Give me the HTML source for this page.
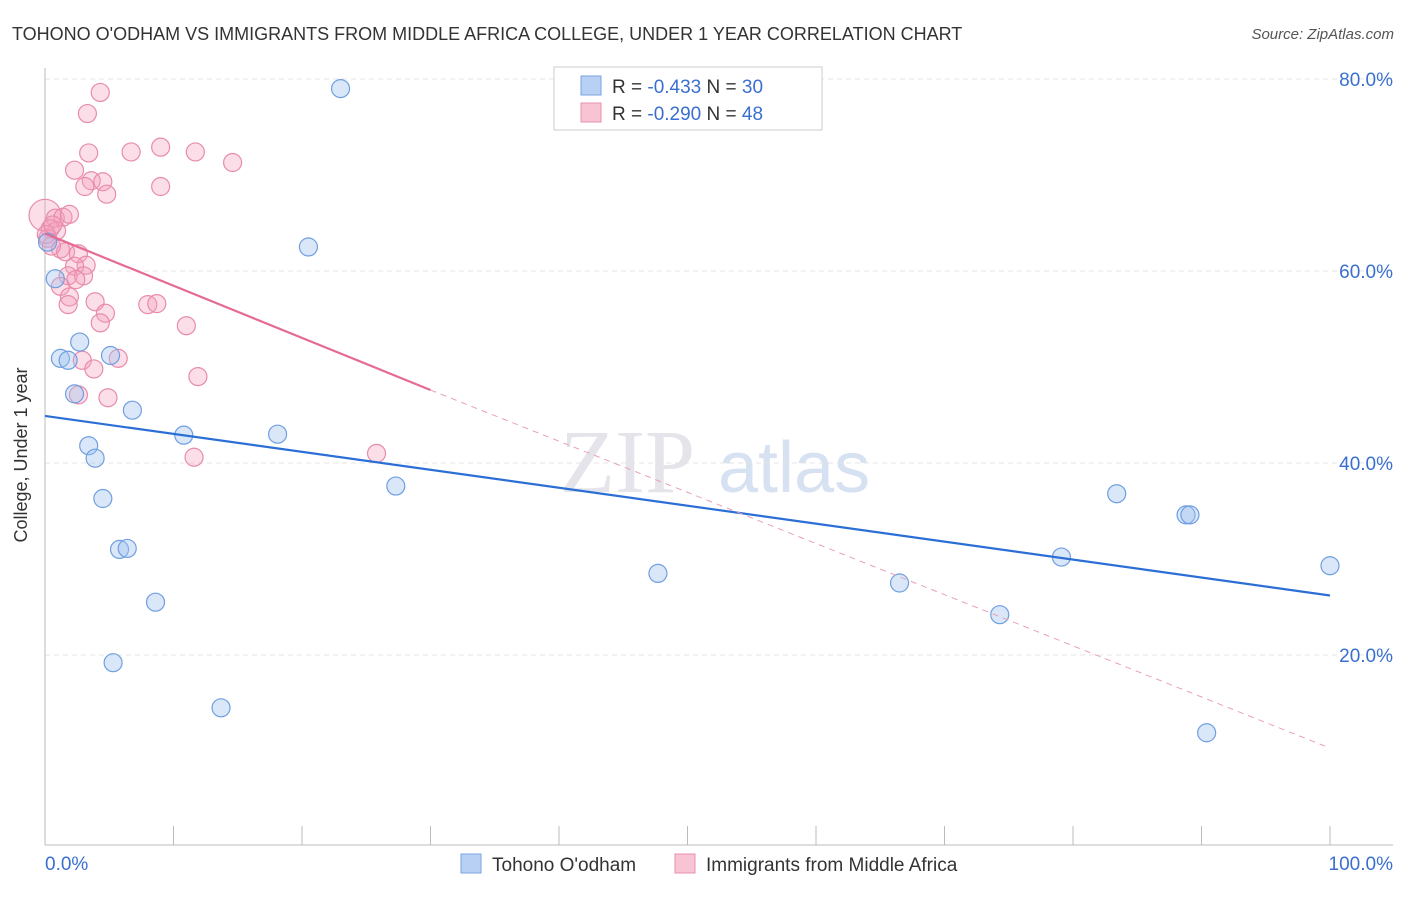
<!DOCTYPE html>
<html><head><meta charset="utf-8"><style>
body{margin:0;background:#fff;font-family:"Liberation Sans",sans-serif}
</style></head><body>
<svg id="c" width="1406" height="892" xmlns="http://www.w3.org/2000/svg">
<text x="12" y="40" font-size="18" fill="#333">TOHONO O'ODHAM VS IMMIGRANTS FROM MIDDLE AFRICA COLLEGE, UNDER 1 YEAR CORRELATION CHART</text>
<text x="1394" y="39" font-size="15" fill="#555" text-anchor="end" font-style="italic">Source: ZipAtlas.com</text>
<text x="27" y="455" font-size="18" fill="#333" text-anchor="middle" transform="rotate(-90 27 455)">College, Under 1 year</text>
<text x="560" y="492" font-size="90" fill="#e4e4ea" font-family="Liberation Serif">ZIP</text>
<text x="718" y="492" font-size="72" fill="#d6e2f2">atlas</text>
<g id="grid"></g><g id="axes"></g><g id="marks"></g>
<g>
<rect x="554" y="67" width="268" height="63" fill="#fff" stroke="#ccc"/>
<rect x="581" y="76" width="20" height="19" fill="#b8d0f4" stroke="#7aa3e0"/>
<rect x="581" y="103" width="20" height="19" fill="#f8c4d4" stroke="#e890ac"/>
<text x="612" y="93" font-size="19" fill="#333">R = <tspan fill="#3a6fd0">-0.433</tspan>   N = <tspan fill="#3a6fd0">30</tspan></text>
<text x="612" y="120" font-size="19" fill="#333">R = <tspan fill="#3a6fd0">-0.290</tspan>   N = <tspan fill="#3a6fd0">48</tspan></text>
</g>
<g>
<rect x="461" y="854" width="20" height="19" fill="#b8d0f4" stroke="#7aa3e0"/>
<text x="492" y="871" font-size="19" fill="#333">Tohono O'odham</text>
<rect x="675" y="854" width="20" height="19" fill="#f8c4d4" stroke="#e890ac"/>
<text x="706" y="871" font-size="19" fill="#333">Immigrants from Middle Africa</text>
</g>
</svg>
<script>
const yTicks=[20,40,60,80];
const yTickLabels=["20.0%","40.0%","60.0%","80.0%"];
const xTickLabels=["0.0%","100.0%"];
const blueX=[23.0,20.5,0.8,2.7,1.2,1.8,5.1,2.3,6.8,10.8,18.1,3.4,3.9,4.5,27.3,5.8,6.4,8.6,5.3,13.7,47.7,66.5,74.3,79.1,83.4,88.8,89.1,100,90.4,0.2];
const blueY=[79.0,62.5,59.2,52.6,50.9,50.7,51.2,47.2,45.5,42.9,43.0,41.8,40.5,36.3,37.6,31.0,31.1,25.5,19.2,14.5,28.5,27.5,24.2,30.2,36.8,34.6,34.6,29.3,11.9,63.0];
const pinkX=[4.3,3.3,3.4,6.7,9.0,11.7,14.6,2.3,3.6,4.5,3.1,9.0,4.8,0,0.8,1.4,1.9,0.4,0.9,0.2,1.2,1.6,2.6,0.5,3.2,2.3,1.8,3.0,2.4,1.2,1.9,3.9,1.8,8.0,8.7,4.7,4.3,11.0,2.9,5.7,3.8,11.9,2.6,4.9,11.6,25.8,0.1,0.6];
const pinkY=[78.6,76.4,72.3,72.4,72.9,72.4,71.3,70.5,69.4,69.3,68.8,68.8,68.0,65.8,65.5,65.6,65.9,64.4,64.2,63.4,62.3,62.0,61.8,62.6,60.6,60.5,59.5,59.5,59.1,58.4,57.3,56.8,56.5,56.5,56.6,55.6,54.6,54.3,50.7,50.9,49.8,49.0,47.1,46.8,40.6,41.0,63.8,64.8];
const pinkR=[9,9,9,9,9,9,9,9,9,9,9,9,9,16,9,9,9,9,9,9,9,9,9,9,9,9,9,9,9,9,9,9,9,9,9,9,9,9,9,9,9,9,9,9,9,9,9,9];
const blueLine=[[0,44.9],[100,26.2]];
const pinkLine=[[0,63.9],[30,47.6],[100,10.3]];
const ns="http://www.w3.org/2000/svg";
const X=v=>45+v*12.85, Y=v=>847-v*9.6;
function mk(p,t,a){const e=document.createElementNS(ns,t);for(const k in a)e.setAttribute(k,a[k]);document.getElementById(p).appendChild(e);return e;}
yTicks.forEach((t,i)=>{
 let g=mk('grid','line',{x1:45,x2:1393,y1:Y(t),y2:Y(t),stroke:'#e4e4e4','stroke-dasharray':'5,4'});
 
 
 let l=mk('axes','text',{x:1393,y:Y(t)+7,'font-size':19,fill:'#3a6fd0','text-anchor':'end'});
 l.textContent=yTickLabels[i];
 
 
});
let ax=mk('axes','line',{x1:45,x2:1393,y1:845,y2:845,stroke:'#bbb'});


let ay=mk('axes','line',{x1:45,x2:45,y1:68,y2:845,stroke:'#bbb'});


for(let i=0;i<=10;i++){let t=mk('axes','line',{x1:X(i*10),x2:X(i*10),y1:826,y2:845,stroke:'#bbb'});
 
 }
[[0,'start',45],[1,'end',1393]].forEach(([i,a,x])=>{let l=mk('axes','text',{x:x,y:870,'font-size':19,fill:'#3a6fd0','text-anchor':a});l.textContent=xTickLabels[i];
 
 });
pinkX.forEach((v,i)=>{let c=mk('marks','circle',{cx:X(v),cy:Y(pinkY[i]),r:pinkR[i],fill:'rgba(244,160,188,0.35)',stroke:'#e98bab','stroke-width':1.2});
 
 });
blueX.forEach((v,i)=>{let c=mk('marks','circle',{cx:X(v),cy:Y(blueY[i]),r:9,fill:'rgba(160,196,240,0.4)',stroke:'#6f9fe0','stroke-width':1.2});
 
 });
let bl=mk('marks','line',{x1:X(blueLine[0][0]),y1:Y(blueLine[0][1]),x2:X(blueLine[1][0]),y2:Y(blueLine[1][1]),stroke:'#2b6fd6','stroke-width':2.2});


let pl=mk('marks','line',{x1:X(pinkLine[0][0]),y1:Y(pinkLine[0][1]),x2:X(pinkLine[1][0]),y2:Y(pinkLine[1][1]),stroke:'#e56b95','stroke-width':2.2});


let pd=mk('marks','line',{x1:X(pinkLine[1][0]),y1:Y(pinkLine[1][1]),x2:X(pinkLine[2][0]),y2:Y(pinkLine[2][1]),stroke:'#e8a0b8','stroke-width':1,'stroke-dasharray':'6,5'});


</script>
</body></html>
